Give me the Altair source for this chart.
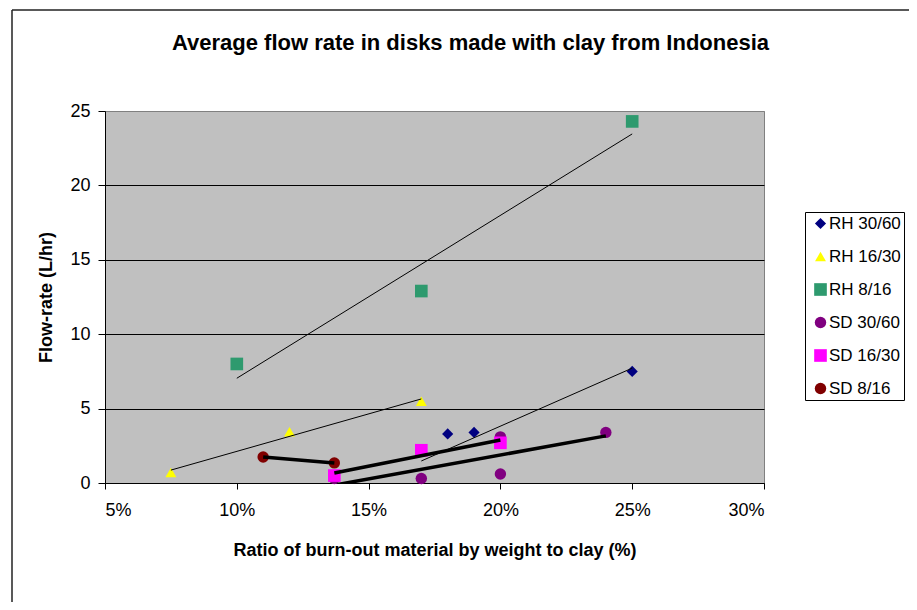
import altair as alt
import pandas as pd

# ---- data ----
series = ["RH 30/60", "RH 16/30", "RH 8/16", "SD 30/60", "SD 16/30", "SD 8/16"]
colors = ["#000080", "#ffff00", "#2e9a6e", "#800080", "#ff00ff", "#800000"]
shapes = ["diamond", "triangle-up", "square", "circle", "square", "circle"]
sizes = [125, 120, 160, 130, 160, 130]

rh3060_x = [17, 18, 19, 25]
rh3060_y = [0.3, 3.3, 3.4, 7.5]
rh1630_x = [7.5, 12, 17]
rh1630_y = [0.7, 3.45, 5.5]
rh816_x = [10, 17, 25]
rh816_y = [8.0, 12.9, 24.3]
sd3060_x = [13.7, 17, 20, 20, 24]
sd3060_y = [0.3, 0.3, 3.1, 0.6, 3.4]
sd1630_x = [13.7, 17, 20]
sd1630_y = [0.5, 2.2, 2.7]
sd816_x = [11, 13.7]
sd816_y = [1.75, 1.35]

x_ticks = [5, 10, 15, 20, 25, 30]
y_ticks = [0, 5, 10, 15, 20, 25]

all_x = [rh3060_x, rh1630_x, rh816_x, sd3060_x, sd1630_x, sd816_x]
all_y = [rh3060_y, rh1630_y, rh816_y, sd3060_y, sd1630_y, sd816_y]

rows = []
idx = 0
for name, xs, ys in zip(series, all_x, all_y):
    for xv, yv in zip(xs, ys):
        rows.append({"series": name, "ratio": xv, "flow": yv, "idx": idx})
        idx += 1
df = pd.DataFrame(rows)

FONT = "Liberation Sans"

x_enc = alt.X(
    "ratio:Q",
    scale=alt.Scale(domain=[5, 30], nice=False, zero=False),
    axis=alt.Axis(
        values=x_ticks, labelExpr="datum.value + '%'", grid=False,
        title="Ratio of burn-out material by weight to clay (%)",
        titleY=72, titleBaseline="alphabetic",
        labelFontSize=18, labelPadding=12, tickSize=6,
    ),
)
y_enc = alt.Y(
    "flow:Q",
    scale=alt.Scale(domain=[0, 25], nice=False),
    axis=alt.Axis(
        values=y_ticks, grid=True,
        gridColor={"condition": {"test": "datum.value == 25", "value": "#808080"}, "value": "black"},
        title="Flow-rate (L/hr)", titleX=-54, titleBaseline="alphabetic",
        labelFontSize=18, labelPadding=8, tickSize=7,
    ),
)

legend = alt.Legend(title=None)

points = alt.Chart(df).mark_point(filled=True, opacity=1, strokeWidth=0).encode(
    x=x_enc,
    y=y_enc,
    color=alt.Color("series:N", scale=alt.Scale(domain=series, range=colors), legend=legend),
    shape=alt.Shape("series:N", scale=alt.Scale(domain=series, range=shapes), legend=legend),
    size=alt.Size("series:N", scale=alt.Scale(type="ordinal", domain=series, range=sizes), legend=None),
    order=alt.Order("idx:Q"),
)

trend_rh = alt.Chart(df).transform_filter(
    "indexof(datum.series, 'RH') == 0"
).transform_regression(
    "ratio", "flow", groupby=["series"]
).mark_line(color="black", strokeWidth=1, clip=True).encode(
    x="ratio:Q", y="flow:Q", detail="series:N"
)

trend_sd = alt.Chart(df).transform_filter(
    "indexof(datum.series, 'SD') == 0"
).transform_regression(
    "ratio", "flow", groupby=["series"]
).mark_line(color="black", strokeWidth=3.5, clip=True).encode(
    x="ratio:Q", y="flow:Q", detail="series:N"
)

one = alt.Data(values=[{"k": 1}])
frame_v = alt.Chart(one).mark_rule(color="#222222", strokeWidth=1.5).encode(
    x=alt.value(-93), y=alt.value(-101), y2=alt.value(520)
)
frame_h = alt.Chart(one).mark_rule(color="#222222", strokeWidth=1.5).encode(
    x=alt.value(-93), x2=alt.value(830), y=alt.value(-101)
)

chart = alt.layer(frame_v, frame_h, points, trend_rh, trend_sd).properties(
    width=659,
    height=372,
    title=alt.TitleParams(
        "Average flow rate in disks made with clay from Indonesia",
        fontSize=22, fontWeight="bold", font=FONT, color="black",
        anchor="middle", frame="group", dx=36, offset=-63, baseline="alphabetic",
    ),
    autosize=alt.AutoSizeParams(type="none"),
    padding={"left": 97, "top": 103, "right": 145, "bottom": 119},
    background="white",
).configure(
    font=FONT,
).configure_view(
    fill="#c0c0c0", stroke="#808080", strokeWidth=1,
).configure_axis(
    labelFont=FONT, titleFont=FONT, labelColor="black", titleColor="black",
    titleFontSize=18, titleFontWeight="bold",
    domainColor="black", tickColor="black", domainWidth=1, tickWidth=1,
    gridWidth=1, gridOpacity=1,
).configure_legend(
    orient="none", legendX=700, legendY=101,
    strokeColor="black", fillColor="white", padding=3,
    labelFont=FONT, labelFontSize=17, labelColor="black", labelOffset=0,
    symbolSize=100, symbolStrokeWidth=0, symbolOpacity=1, symbolOffset=4,
    rowPadding=15,
)

chart.save("out.html", embed_options={"renderer": "svg", "actions": False})
